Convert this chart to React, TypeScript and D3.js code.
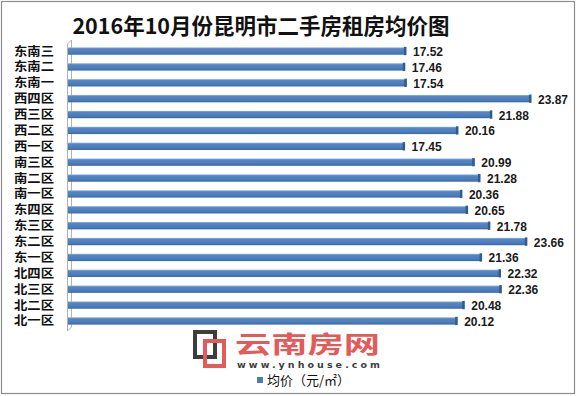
import React from "react";
import * as d3 from "d3";

const categories = ["东南三", "东南二", "东南一", "西四区", "西三区", "西二区", "西一区", "南三区", "南二区", "南一区", "东四区", "东三区", "东二区", "东一区", "北四区", "北三区", "北二区", "北一区"];
const values = [17.52, 17.46, 17.54, 23.87, 21.88, 20.16, 17.45, 20.99, 21.28, 20.36, 20.65, 21.78, 23.66, 21.36, 22.32, 22.36, 20.48, 20.12];
const title = "2016年10月份昆明市二手房租房均价图";
const legendLabel = "均价（元/㎡）";

const W = 577;
const H = 396;
const CJK = "'Noto Sans CJK SC', 'Noto Sans', sans-serif";

export default function App() {
  const x = d3.scaleLinear().domain([0, 26]).range([61, 61 + 26 * 19.69]);
  const y = d3.scaleBand<string>().domain(categories).range([43.1, 328.9]).paddingInner(0.54).paddingOuter(0.27);
  const plotLeft = 68;
  const bh = y.bandwidth();

  return (
    <svg width={W} height={H} style={{ position: "absolute", left: 0, top: 0, background: "#fff" }} xmlns="http://www.w3.org/2000/svg">
      <defs>
        <linearGradient id="barG" x1="0" y1="0" x2="0" y2="1">
          <stop offset="0" stopColor="#8fb1de" />
          <stop offset="0.2" stopColor="#5585c4" />
          <stop offset="0.7" stopColor="#4a7cbc" />
          <stop offset="1" stopColor="#3b679f" />
        </linearGradient>
      </defs>
      <rect x={0} y={0} width={W} height={H} fill="#fff" />
      <rect x={1.5} y={1.5} width={573} height={392} fill="none" stroke="#8c8c8c" strokeWidth={1.2} />

      <text x={261} y={34} textAnchor="middle" fontFamily={CJK} fontWeight="bold" fontSize={21.5} fill="#111">{title}</text>

      {/* 3D wall */}
      <path d={`M67.5,${44} L71.5,${40} L71.5,${327} L67.5,${331} Z`} fill="none" stroke="#a8a8a8" strokeWidth={0.9} />

      {categories.map((c, i) => {
        const v = values[i];
        const y0 = y(c)!;
        const xe = x(v);
        return (
          <g key={c}>
            <rect x={plotLeft} y={y0} width={xe - plotLeft} height={bh} fill="url(#barG)" />
            <rect x={xe - 2} y={y0 - 0.5} width={2.5} height={bh + 1} fill="#2f5b91" />
            <text x={54} y={y0 + bh / 2 + 4.5} textAnchor="end" fontFamily={CJK} fontWeight="bold" fontSize={12} textLength={40} lengthAdjust="spacingAndGlyphs" fill="#111">{c}</text>
            <text x={xe + 7} y={y0 + bh / 2 + 5} fontFamily="'Liberation Sans', Arial, sans-serif" fontWeight="bold" fontSize={12} fill="#1a1a1a">{v.toFixed(2)}</text>
          </g>
        );
      })}

      {/* watermark logo */}
      <rect x={195} y={332} width={20} height={25} fill="none" stroke="#3d3d3d" strokeWidth={4} />
      <rect x={205} y={341} width={19} height={25} fill="none" stroke="#e35a5a" strokeWidth={4} />
      <text x={235} y={352.5} fontFamily={CJK} fontWeight="bold" fontSize={24} fill="#e35a5a" textLength={145} lengthAdjust="spacingAndGlyphs">云南房网</text>
      <text x={237} y={368} fontFamily="'DejaVu Sans', sans-serif" fontWeight="bold" fontSize={9.5} fill="#3d3d3d" textLength={143} lengthAdjust="spacing">www.ynhouse.com</text>

      {/* legend */}
      <rect x={257} y={377} width={6} height={6} fill="#4a7cbc" />
      <text x={267} y={385} fontFamily={CJK} fontSize={13} fill="#111">{legendLabel}</text>
    </svg>
  );
}
